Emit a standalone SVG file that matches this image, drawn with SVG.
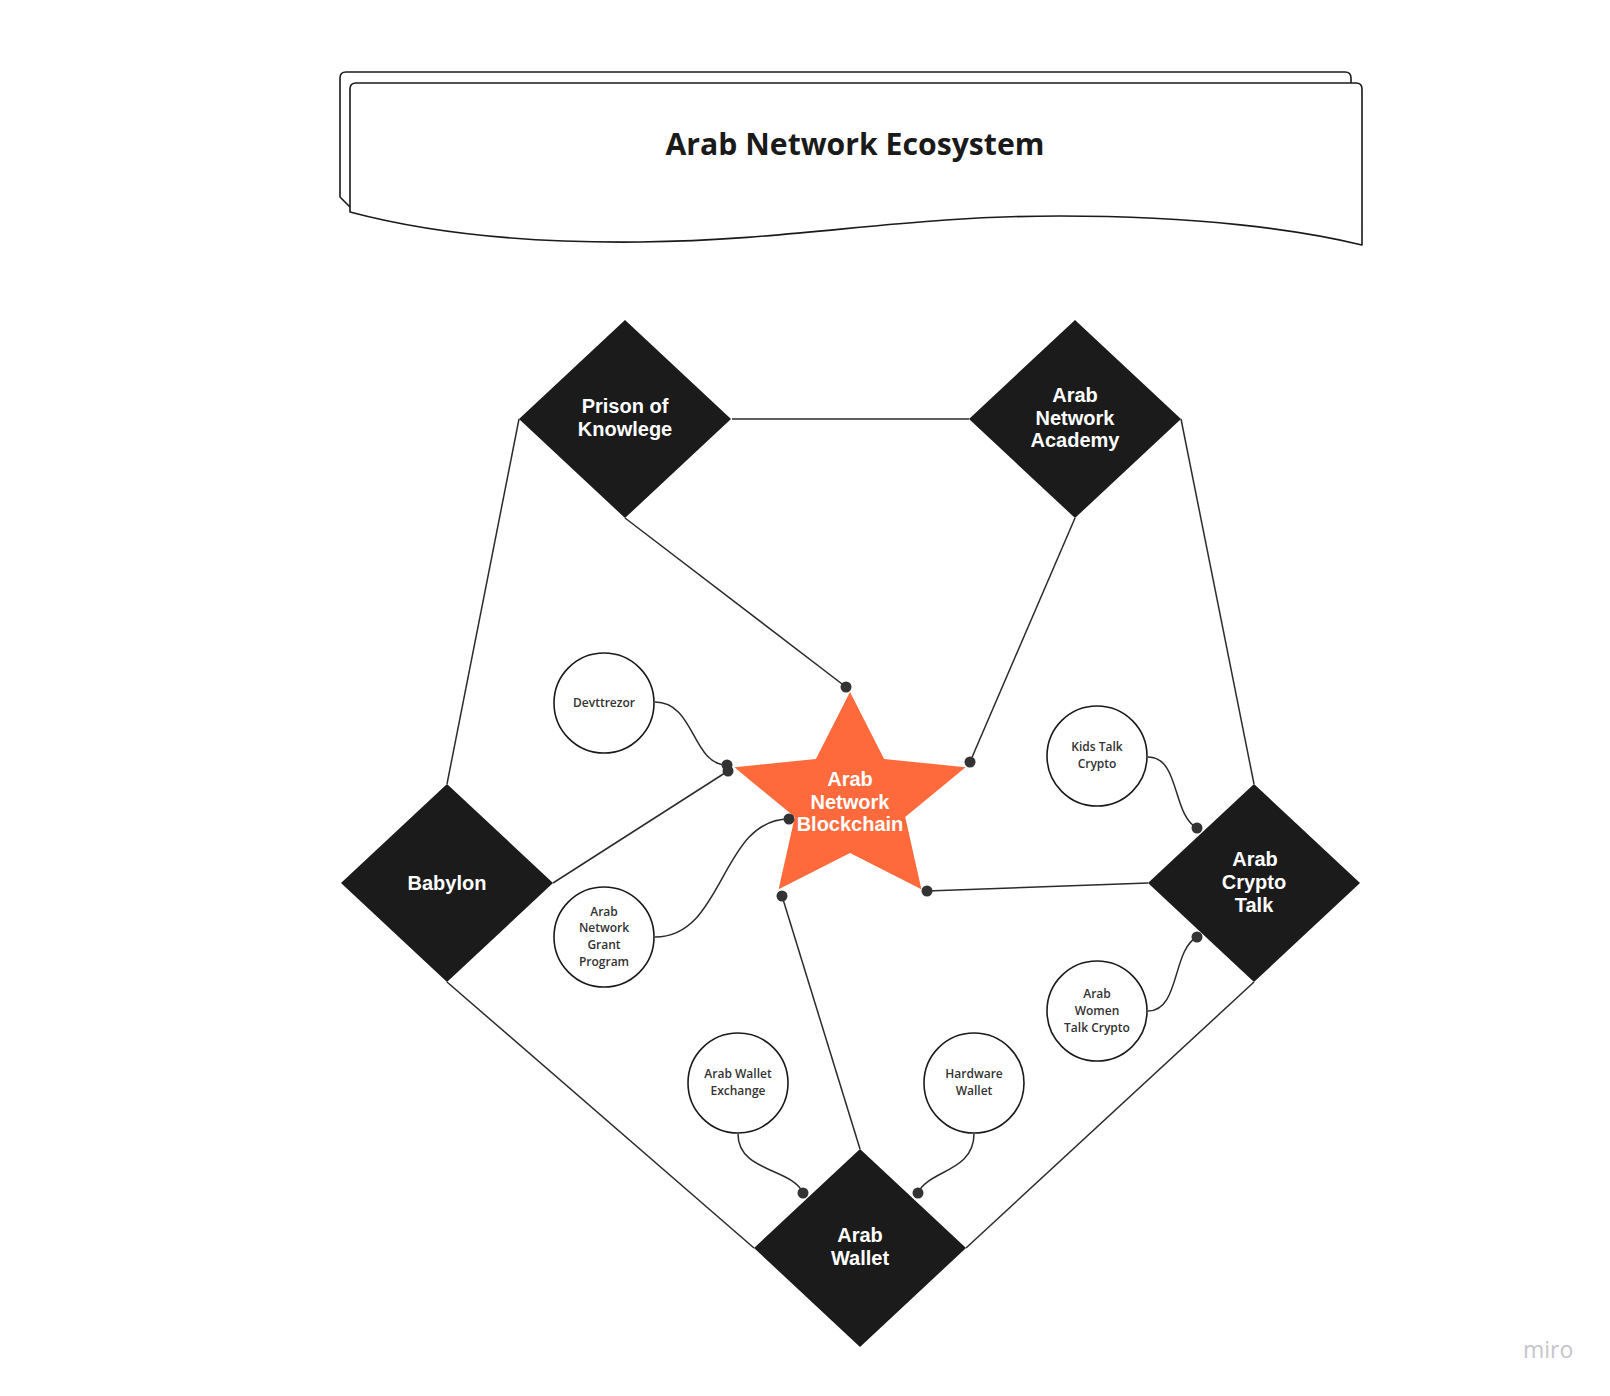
<svg xmlns="http://www.w3.org/2000/svg" width="1610" height="1396" viewBox="0 0 1610 1396">
  <style>
    .paper { fill: #ffffff; stroke: #1a1a1a; stroke-width: 1.6; stroke-linejoin: round; }
    .title { font-family: "Open Sans", "Noto Sans", sans-serif; font-weight: 700; font-size: 30.2px; fill: #1a1a1a; text-anchor: middle; }
    .dia { fill: #1b1b1b; }
    .dtext { font-family: "Liberation Sans", Arial, sans-serif; font-weight: 700; font-size: 20px; fill: #ffffff; text-anchor: middle; }
    .star { fill: #ff6a3d; }
    .circ { fill: #ffffff; stroke: #1a1a1a; stroke-width: 1.6; }
    .ctext { font-family: "Open Sans", "Noto Sans", sans-serif; font-weight: 600; font-size: 12px; fill: #333333; text-anchor: middle; }
    .edge { fill: none; stroke: #2b2b2b; stroke-width: 1.5; }
    .dot { fill: #333333; }
    .logo { font-family: "Open Sans", "Noto Sans", sans-serif; font-size: 23px; fill: #c5c5cd; }
  </style>
  <rect width="1610" height="1396" fill="#ffffff"/>

  <g id="title">
    <path class="paper" d="M350,207 L340,197 L340,78 Q340,72 346,72 L1345,72 Q1351,72 1351,78 L1351,84"/>
    <path class="paper" d="M350,212 L350,89 Q350,83 356,83 L1356,83 Q1362,83 1362,89 L1362,245 C1300,230 1200,216 1060,216 C900,216 800,240 640,242 C540,243 440,236 350,212 Z"/>
    <text class="title" x="855" y="155">Arab Network Ecosystem</text>
  </g>

  <g id="connectors">
    <line class="edge" x1="732" y1="419" x2="969" y2="419"/>
    <line class="edge" x1="519" y1="419" x2="447" y2="784"/>
    <line class="edge" x1="1181" y1="419" x2="1254" y2="784"/>
    <line class="edge" x1="447" y1="982" x2="754" y2="1248"/>
    <line class="edge" x1="1254" y1="982" x2="966" y2="1248"/>
    <line class="edge" x1="625" y1="518" x2="846" y2="687"/>
    <line class="edge" x1="1075" y1="518" x2="970" y2="762"/>
    <line class="edge" x1="553" y1="883" x2="728" y2="771"/>
    <path class="edge" d="M655,702 C695,702 692,765 727,765"/>
    <path class="edge" d="M655,937 C725,937 720,819 789,819"/>
    <line class="edge" x1="782" y1="896" x2="860" y2="1149"/>
    <line class="edge" x1="927" y1="891" x2="1148" y2="883"/>
    <path class="edge" d="M1148,757 C1180,757 1172,815 1197,828"/>
    <path class="edge" d="M1148,1011 C1180,1011 1172,950 1197,937"/>
    <path class="edge" d="M738,1134 C738,1172 792,1168 803,1193"/>
    <path class="edge" d="M974,1134 C974,1172 928,1170 918,1193"/>
  </g>

  <g id="node-prison">
    <polygon class="dia" points="625,320 731,419 625,518 519,419"/>
    <text class="dtext" x="625" y="413">Prison of</text>
    <text class="dtext" x="625" y="436">Knowlege</text>
  </g>

  <g id="node-academy">
    <polygon class="dia" points="1075,320 1181,419 1075,518 969,419"/>
    <text class="dtext" x="1075" y="402">Arab</text>
    <text class="dtext" x="1075" y="425">Network</text>
    <text class="dtext" x="1075" y="447">Academy</text>
  </g>

  <g id="node-babylon">
    <polygon class="dia" points="447,784 553,883 447,982 341,883"/>
    <text class="dtext" x="447" y="890">Babylon</text>
  </g>

  <g id="node-crypto-talk">
    <polygon class="dia" points="1254,784 1360,883 1254,982 1148,883"/>
    <text class="dtext" x="1255" y="866">Arab</text>
    <text class="dtext" x="1254" y="889">Crypto</text>
    <text class="dtext" x="1254" y="912">Talk</text>
  </g>

  <g id="node-wallet">
    <polygon class="dia" points="860,1149 966,1248 860,1347 754,1248"/>
    <text class="dtext" x="860" y="1242">Arab</text>
    <text class="dtext" x="860" y="1265">Wallet</text>
  </g>

  <g id="node-blockchain">
    <polygon class="star" points="850,692 884.1,758.9 965.6,767.3 905.2,817.1 921.4,889.2 850,853 778.6,889.2 794.8,817.1 734.4,767.3 815.9,758.9"/>
    <text class="dtext" x="850" y="786">Arab</text>
    <text class="dtext" x="850" y="809">Network</text>
    <text class="dtext" x="850" y="831">Blockchain</text>
  </g>

  <g id="node-devttrezor">
    <circle class="circ" cx="604" cy="703" r="50"/>
    <text class="ctext" x="604" y="707">Devttrezor</text>
  </g>

  <g id="node-grant">
    <circle class="circ" cx="604" cy="937" r="50"/>
    <text class="ctext" x="604" y="916">Arab</text>
    <text class="ctext" x="604" y="932">Network</text>
    <text class="ctext" x="604" y="949">Grant</text>
    <text class="ctext" x="604" y="966">Program</text>
  </g>

  <g id="node-kids">
    <circle class="circ" cx="1097" cy="756" r="50"/>
    <text class="ctext" x="1097" y="751">Kids Talk</text>
    <text class="ctext" x="1097" y="768">Crypto</text>
  </g>

  <g id="node-women">
    <circle class="circ" cx="1097" cy="1011" r="50"/>
    <text class="ctext" x="1097" y="998">Arab</text>
    <text class="ctext" x="1097" y="1015">Women</text>
    <text class="ctext" x="1097" y="1032">Talk Crypto</text>
  </g>

  <g id="node-exchange">
    <circle class="circ" cx="738" cy="1083" r="50"/>
    <text class="ctext" x="738" y="1078">Arab Wallet</text>
    <text class="ctext" x="738" y="1095">Exchange</text>
  </g>

  <g id="node-hardware">
    <circle class="circ" cx="974" cy="1083" r="50"/>
    <text class="ctext" x="974" y="1078">Hardware</text>
    <text class="ctext" x="974" y="1095">Wallet</text>
  </g>

  <g id="endpoints">
    <circle class="dot" cx="846" cy="687" r="5.5"/>
    <circle class="dot" cx="970" cy="762" r="5.5"/>
    <circle class="dot" cx="727" cy="765" r="5.5"/>
    <circle class="dot" cx="728" cy="771" r="5.5"/>
    <circle class="dot" cx="789" cy="819" r="5.5"/>
    <circle class="dot" cx="782" cy="896" r="5.5"/>
    <circle class="dot" cx="927" cy="891" r="5.5"/>
    <circle class="dot" cx="1197" cy="828" r="5.5"/>
    <circle class="dot" cx="1197" cy="937" r="5.5"/>
    <circle class="dot" cx="803" cy="1193" r="5.5"/>
    <circle class="dot" cx="918" cy="1193" r="5.5"/>
  </g>

  <text class="logo" x="1523" y="1358">miro</text>
</svg>
